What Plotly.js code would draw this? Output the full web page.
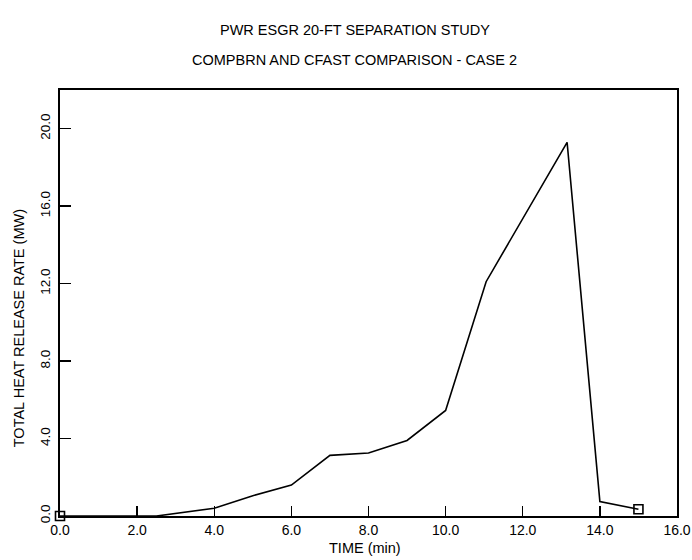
<!DOCTYPE html>
<html>
<head>
<meta charset="utf-8">
<script src="https://cdn.plot.ly/plotly-3.0.1.min.js"></script>
<style>html,body{margin:0;padding:0;background:#fff;}#chart{width:692px;height:560px;}</style>
</head>
<body>
<div id="chart"></div>
<script>
// Data
var timeMin = [0, 2.5, 4.0, 5.0, 6.0, 7.0, 8.0, 9.0, 10.0, 11.05, 13.15, 14.0, 15.0];
var heatReleaseMW = [0, 0, 0.4, 1.05, 1.6, 3.13, 3.25, 3.9, 5.45, 12.1, 19.3, 0.75, 0.35];
var markerTime = [0, 15.0];
var markerHRR = [0, 0.35];
var xTickVals = [0, 2, 4, 6, 8, 10, 12, 14, 16];
var xTickText = ["0.0", "2.0", "4.0", "6.0", "8.0", "10.0", "12.0", "14.0", "16.0"];
var yTickVals = [0, 4, 8, 12, 16, 20];
var yTickText = ["0.0", "4.0", "8.0", "12.0", "16.0", "20.0"];
var titleLine1 = "PWR ESGR 20-FT SEPARATION STUDY";
var titleLine2 = "COMPBRN AND CFAST COMPARISON - CASE 2";
var xTitle = "TIME (min)";
var yTitle = "TOTAL HEAT RELEASE RATE (MW)";

var FONT = "Liberation Sans, Arial, Helvetica, sans-serif";

var traces = [
  {
    x: timeMin, y: heatReleaseMW, type: "scatter", mode: "lines",
    line: {color: "#000", width: 1.6}, showlegend: false, hoverinfo: "skip"
  },
  {
    x: markerTime, y: markerHRR, type: "scatter", mode: "markers",
    marker: {symbol: "square-open", size: 9, color: "#000", line: {width: 1.6, color: "#000"}},
    cliponaxis: false, showlegend: false, hoverinfo: "skip"
  }
];

var layout = {
  width: 692, height: 560,
  margin: {l: 60, r: 15, t: 90, b: 44},
  paper_bgcolor: "#fff", plot_bgcolor: "#fff",
  font: {family: FONT, color: "#000", size: 13},
  xaxis: {
    range: [0, 16], tickvals: xTickVals, ticktext: xTickText,
    ticks: "inside", ticklen: 10, tickwidth: 1.4, tickcolor: "#000",
    showline: true, linecolor: "#000", linewidth: 1.8, mirror: true,
    showgrid: false, zeroline: false,
    tickfont: {family: FONT, size: 14, color: "#000"}
  },
  yaxis: {
    range: [0, 22], tickvals: yTickVals, ticktext: yTickText,
    ticks: "inside", ticklen: 11, tickwidth: 1.4, tickcolor: "#000",
    showline: true, linecolor: "#000", linewidth: 1.8, mirror: true,
    showgrid: false, zeroline: false, tickangle: -90, ticklabelstandoff: 3,
    tickfont: {family: FONT, size: 13.5, color: "#000"}
  },
  annotations: [
    {text: titleLine1, xref: "paper", yref: "paper", x: 0.478, y: 1.14, showarrow: false,
     xanchor: "center", yanchor: "middle", font: {family: FONT, size: 14.5, color: "#000"}},
    {text: titleLine2, xref: "paper", yref: "paper", x: 0.478, y: 1.07, showarrow: false,
     xanchor: "center", yanchor: "middle", font: {family: FONT, size: 14.5, color: "#000"}},
    {text: xTitle, xref: "paper", yref: "paper", x: 0.495, y: -0.075, showarrow: false,
     xanchor: "center", yanchor: "middle", font: {family: FONT, size: 14.5, color: "#000"}},
    {text: yTitle, xref: "paper", yref: "paper", x: -0.067, y: 0.44, showarrow: false,
     textangle: -90, xanchor: "center", yanchor: "middle", font: {family: FONT, size: 14.5, color: "#000"}}
  ]
};

Plotly.newPlot("chart", traces, layout, {displayModeBar: false, staticPlot: true});
</script>
</body>
</html>
